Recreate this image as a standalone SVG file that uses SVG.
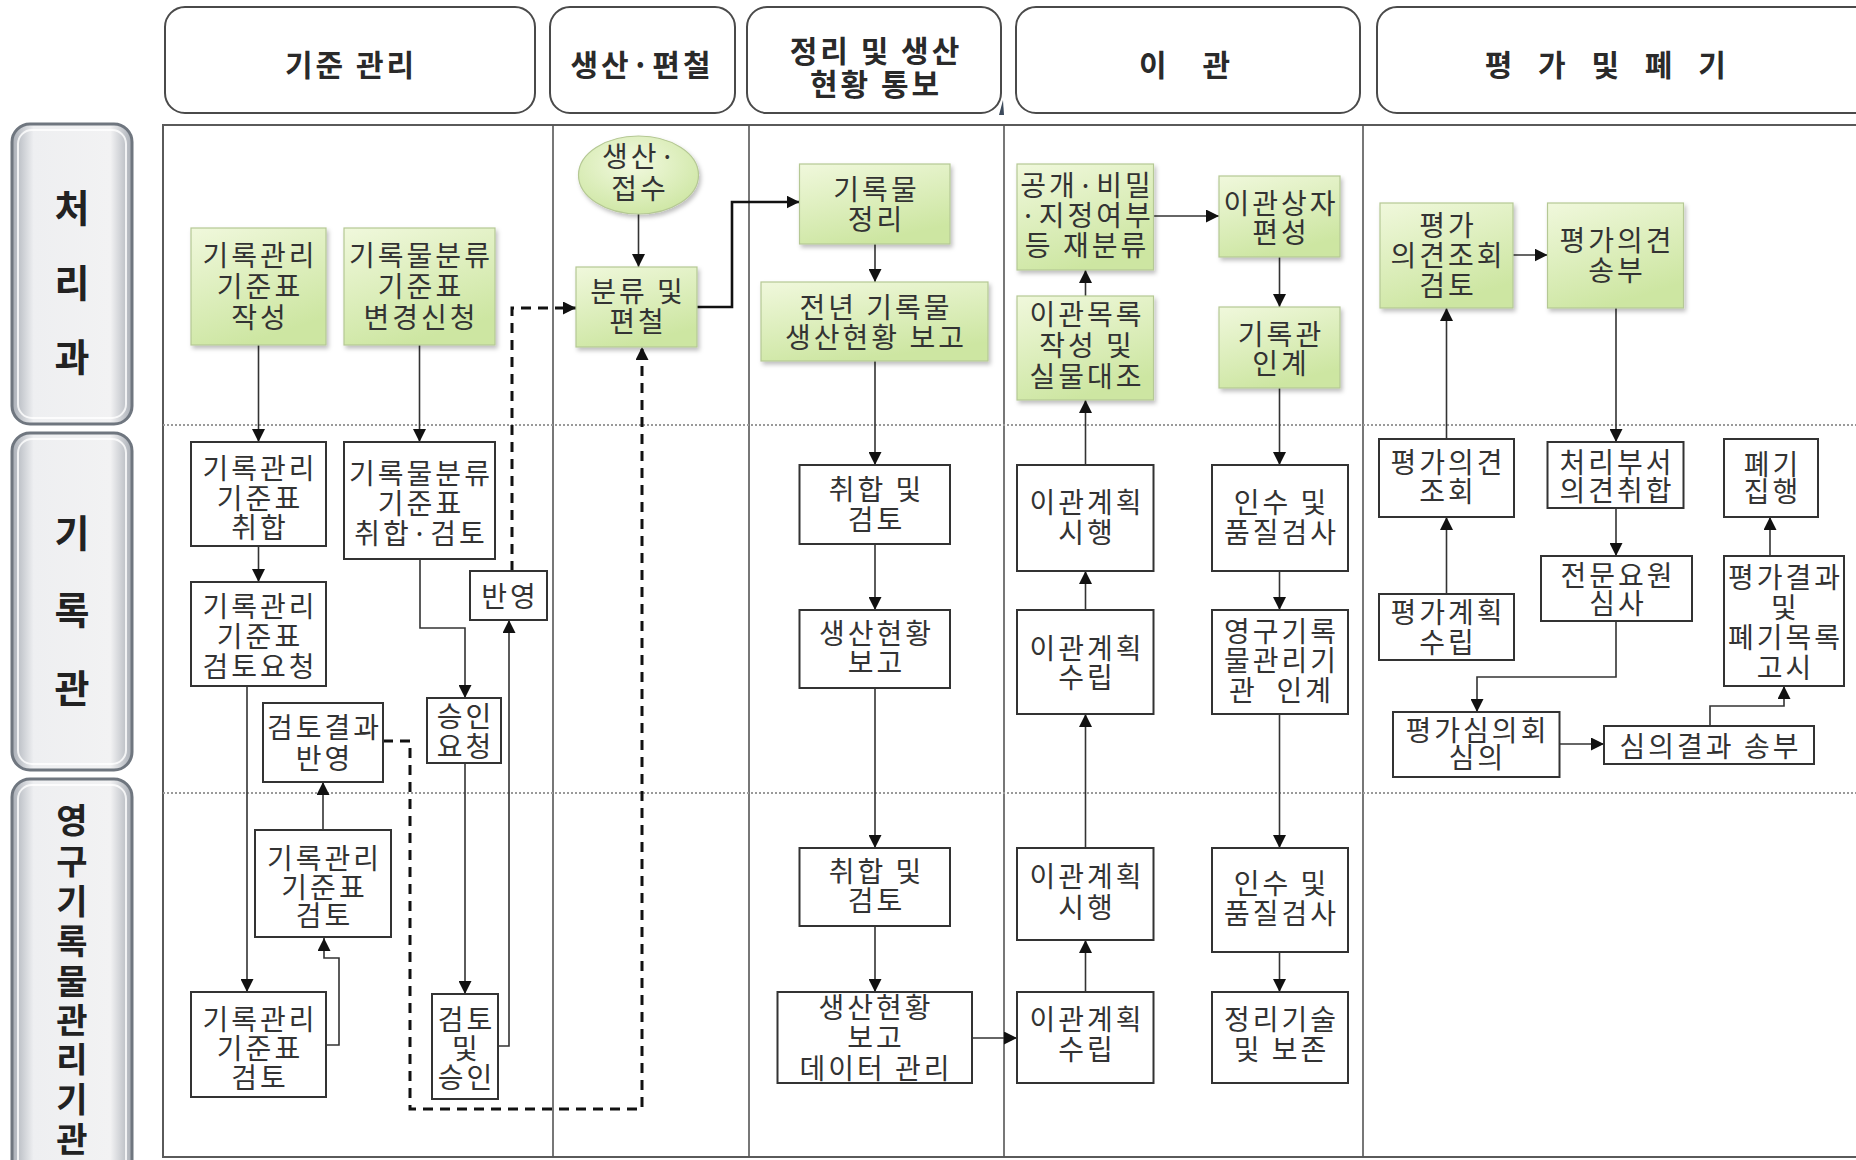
<svg xmlns="http://www.w3.org/2000/svg" width="1856" height="1160" viewBox="0 0 1856 1160">
<defs>
<linearGradient id="gGreen" x1="0" y1="0" x2="0.4" y2="1">
<stop offset="0" stop-color="#f0f8dc"/>
<stop offset="1" stop-color="#cde6a2"/>
</linearGradient>
<radialGradient id="gEll" cx="0.45" cy="0.35" r="0.7">
<stop offset="0" stop-color="#f2f9e0"/>
<stop offset="1" stop-color="#cde6a2"/>
</radialGradient>
<linearGradient id="gLane" x1="0" y1="0" x2="1" y2="0">
<stop offset="0" stop-color="#a9aeb6"/>
<stop offset="0.18" stop-color="#eeeff1"/>
<stop offset="0.82" stop-color="#f2f2f3"/>
<stop offset="1" stop-color="#a9aeb6"/>
</linearGradient>
<filter id="sh" x="-10%" y="-10%" width="125%" height="125%">
<feDropShadow dx="2" dy="3" stdDeviation="2" flood-color="#000" flood-opacity="0.25"/>
</filter>
<marker id="ah" viewBox="0 0 12 12" refX="12" refY="6" markerWidth="13" markerHeight="13" markerUnits="userSpaceOnUse" orient="auto">
<path d="M0,0 L12,6 L0,12 Z" fill="#111"/>
</marker>
</defs>
<style>
text { font-family: "Noto Sans CJK KR", "Noto Sans", sans-serif; text-anchor: middle; dominant-baseline: central; fill: #333; }
.hd { font-size: 30px; font-weight: bold; fill: #2a2a2a; letter-spacing: 3px; }
.ln { font-size: 38px; font-weight: bold; fill: #222; }
.ln3 { font-size: 34px; font-weight: bold; fill: #222; }
.t { font-size: 28px; letter-spacing: 3px; }
.hbox { fill: #fff; stroke: #4a4a4a; stroke-width: 2; }
.lane { fill: url(#gLane); stroke: #6f767f; stroke-width: 3; }
.lanein { fill: none; stroke: #ffffff; stroke-width: 2; opacity: 0.8; }
.grn { fill: url(#gGreen); stroke: #b5c894; stroke-width: 1.2; filter: url(#sh); }
.wht { fill: #fff; stroke: #333; stroke-width: 2; }
.grid { fill: none; stroke: #5a5a5a; stroke-width: 2; }
.col { stroke: #555; stroke-width: 1.6; }
.row { stroke: #9a9a9a; stroke-width: 2; stroke-dasharray: 2 2; }
.cn { fill: none; stroke: #333; stroke-width: 1.6; marker-end: url(#ah); }
.cnt { fill: none; stroke: #111; stroke-width: 2.6; marker-end: url(#ah); }
.dsh { fill: none; stroke: #111; stroke-width: 3; stroke-dasharray: 10 7; marker-end: url(#ah); }
</style>
<rect width="1856" height="1160" fill="#fff"/>

<!-- headers -->
<g id="header-1"><rect class="hbox" x="165" y="7" width="370" height="106" rx="20"/><text class="hd" x="351" y="63">기준 관리</text></g>
<g id="header-2"><rect class="hbox" x="550" y="7" width="185" height="106" rx="20"/><text class="hd" x="642" y="63">생산·편철</text></g>
<g id="header-3"><rect class="hbox" x="747" y="7" width="254" height="106" rx="20"/><text class="hd"><tspan x="876" y="49">정리 및 생산</tspan><tspan x="876" y="82">현황 통보</tspan></text>
<path d="M999,115 L1003,100 L1004,115 Z" fill="#3d4b5c"/></g>
<g id="header-4"><rect class="hbox" x="1016" y="7" width="344" height="106" rx="20"/><text class="hd" x="1186" y="63" style="word-spacing:23px">이 관</text></g>
<g id="header-5"><rect class="hbox" x="1377" y="7" width="500" height="106" rx="20"/><text class="hd" x="1610" y="63" style="letter-spacing:9.5px">평 가 및 폐 기</text></g>

<!-- lane labels -->
<g id="lane-1"><rect class="lane" x="12" y="124" width="120" height="300" rx="18"/><rect class="lanein" x="18" y="130" width="108" height="288" rx="14"/>
<text class="ln"><tspan x="72" y="205">처</tspan><tspan x="72" y="280">리</tspan><tspan x="72" y="354">과</tspan></text></g>
<g id="lane-2"><rect class="lane" x="12" y="433" width="120" height="337" rx="18"/><rect class="lanein" x="18" y="439" width="108" height="325" rx="14"/>
<text class="ln"><tspan x="72" y="530">기</tspan><tspan x="72" y="607">록</tspan><tspan x="72" y="685">관</tspan></text></g>
<g id="lane-3"><rect class="lane" x="12" y="779" width="120" height="400" rx="18"/><rect class="lanein" x="18" y="785" width="108" height="390" rx="14"/>
<text class="ln3"><tspan x="72" y="818">영</tspan><tspan x="72" y="859">구</tspan><tspan x="72" y="899">기</tspan><tspan x="72" y="939">록</tspan><tspan x="72" y="979">물</tspan><tspan x="72" y="1018">관</tspan><tspan x="72" y="1057">리</tspan><tspan x="72" y="1097">기</tspan><tspan x="72" y="1137">관</tspan></text></g>

<!-- grid -->
<g id="grid">
<rect class="grid" x="163" y="125" width="1700" height="1032"/>
<line class="col" x1="553" y1="125" x2="553" y2="1157"/>
<line class="col" x1="749" y1="125" x2="749" y2="1157"/>
<line class="col" x1="1004" y1="125" x2="1004" y2="1157"/>
<line class="col" x1="1363" y1="125" x2="1363" y2="1157"/>
<line class="row" x1="163" y1="425" x2="1856" y2="425"/>
<line class="row" x1="163" y1="793" x2="1856" y2="793"/>
</g>

<!-- connectors -->
<g id="connectors">
<path class="cn" d="M258.5,345 V442"/>
<path class="cn" d="M419.5,345 V442"/>
<path class="cn" d="M258.5,546 V582"/>
<path class="cn" d="M420,559 V628 H465 V698"/>
<path class="cn" d="M247,686 V992"/>
<path class="cn" d="M323,830 V782"/>
<path class="cn" d="M326,1045 H339 V958 H324 V938"/>
<path class="cn" d="M465,763 V994"/>
<path class="cn" d="M498,1046 H509 V620"/>
<path class="dsh" d="M512,571 V308 H576"/>
<path class="dsh" d="M383,741 H410 V1109 H642 V347"/>
<path class="cn" d="M638.5,214 V267"/>
<path class="cnt" d="M697,307 H732 V202 H799.5"/>
<path class="cn" d="M875,244 V282"/>
<path class="cn" d="M875,361 V465"/>
<path class="cn" d="M875,544 V610"/>
<path class="cn" d="M875,688 V848"/>
<path class="cn" d="M875,926 V992"/>
<path class="cn" d="M972,1038 H1017"/>
<path class="cn" d="M1085.5,992 V940"/>
<path class="cn" d="M1085.5,848 V714"/>
<path class="cn" d="M1085.5,610 V571"/>
<path class="cn" d="M1085.5,465 V400"/>
<path class="cn" d="M1085.5,296 V270"/>
<path class="cn" d="M1153.5,216 H1219"/>
<path class="cn" d="M1279.5,257 V307"/>
<path class="cn" d="M1279.5,388 V465"/>
<path class="cn" d="M1279.5,571 V610"/>
<path class="cn" d="M1279.5,714 V848"/>
<path class="cn" d="M1279.5,952 V992"/>
<path class="cn" d="M1446.5,594 V517"/>
<path class="cn" d="M1446.5,439 V308"/>
<path class="cn" d="M1513,255 H1547.5"/>
<path class="cn" d="M1616,308 V442"/>
<path class="cn" d="M1616,508 V556"/>
<path class="cn" d="M1616,621 V677 H1477 V712"/>
<path class="cn" d="M1559.5,744 H1604"/>
<path class="cn" d="M1710,726 V706 H1784 V686"/>
<path class="cn" d="M1770,556 V517"/>
</g>

<!-- column 1 nodes -->
<g id="n-g1"><rect class="grn" x="191" y="228" width="135" height="117"/><text class="t"><tspan x="260" y="254">기록관리</tspan><tspan x="260" y="285">기준표</tspan><tspan x="260" y="316">작성</tspan></text></g>
<g id="n-g2"><rect class="grn" x="344" y="228" width="151" height="117"/><text class="t"><tspan x="421" y="254">기록물분류</tspan><tspan x="421" y="285">기준표</tspan><tspan x="421" y="316">변경신청</tspan></text></g>
<g id="n-w1"><rect class="wht" x="191" y="442" width="135" height="104"/><text class="t"><tspan x="260" y="467">기록관리</tspan><tspan x="260" y="497">기준표</tspan><tspan x="260" y="526">취합</tspan></text></g>
<g id="n-w2"><rect class="wht" x="344" y="442" width="151" height="117"/><text class="t"><tspan x="421" y="472">기록물분류</tspan><tspan x="421" y="502">기준표</tspan><tspan x="421" y="532">취합·검토</tspan></text></g>
<g id="n-w3"><rect class="wht" x="191" y="582" width="135" height="104"/><text class="t"><tspan x="260" y="605">기록관리</tspan><tspan x="260" y="635">기준표</tspan><tspan x="260" y="665">검토요청</tspan></text></g>
<g id="n-w4"><rect class="wht" x="470" y="571" width="77" height="49"/><text class="t" x="510" y="595">반영</text></g>
<g id="n-w5"><rect class="wht" x="263" y="703" width="120" height="79"/><text class="t"><tspan x="324.5" y="726">검토결과</tspan><tspan x="324.5" y="757">반영</tspan></text></g>
<g id="n-w6"><rect class="wht" x="427" y="698" width="74" height="65"/><text class="t"><tspan x="465.5" y="715">승인</tspan><tspan x="465.5" y="745">요청</tspan></text></g>
<g id="n-w7"><rect class="wht" x="255" y="830" width="136" height="107"/><text class="t"><tspan x="324.5" y="857">기록관리</tspan><tspan x="324.5" y="886">기준표</tspan><tspan x="324.5" y="914">검토</tspan></text></g>
<g id="n-w8"><rect class="wht" x="191" y="992" width="135" height="105"/><text class="t"><tspan x="260" y="1018">기록관리</tspan><tspan x="260" y="1047">기준표</tspan><tspan x="260" y="1076">검토</tspan></text></g>
<g id="n-w9"><rect class="wht" x="432" y="994" width="66" height="105"/><text class="t"><tspan x="466.5" y="1018">검토</tspan><tspan x="466.5" y="1047">및</tspan><tspan x="466.5" y="1076">승인</tspan></text></g>

<!-- column 2 nodes -->
<g id="n-e1"><ellipse cx="638.5" cy="175" rx="60" ry="39" fill="url(#gEll)" stroke="#b5c894" stroke-width="1.2" filter="url(#sh)"/><text class="t"><tspan x="640" y="155">생산·</tspan><tspan x="640" y="187">접수</tspan></text></g>
<g id="n-b1"><rect class="grn" x="576" y="267" width="121" height="80"/><text class="t"><tspan x="638" y="290">분류 및</tspan><tspan x="638" y="320">편철</tspan></text></g>

<!-- column 3 nodes -->
<g id="n-g3"><rect class="grn" x="799.5" y="164" width="150.5" height="80"/><text class="t"><tspan x="876.5" y="188">기록물</tspan><tspan x="876.5" y="218">정리</tspan></text></g>
<g id="n-g4"><rect class="grn" x="761" y="282" width="227" height="79"/><text class="t"><tspan x="876" y="306">전년 기록물</tspan><tspan x="876" y="336">생산현황 보고</tspan></text></g>
<g id="n-r2a"><rect class="wht" x="799.5" y="465" width="150.5" height="79"/><text class="t"><tspan x="876.5" y="488">취합 및</tspan><tspan x="876.5" y="518">검토</tspan></text></g>
<g id="n-r2b"><rect class="wht" x="799.5" y="610" width="150.5" height="78"/><text class="t"><tspan x="876.5" y="632">생산현황</tspan><tspan x="876.5" y="661">보고</tspan></text></g>
<g id="n-r3a"><rect class="wht" x="799.5" y="848" width="150.5" height="78"/><text class="t"><tspan x="876.5" y="870">취합 및</tspan><tspan x="876.5" y="899">검토</tspan></text></g>
<g id="n-r3b"><rect class="wht" x="777.5" y="992" width="194.5" height="91"/><text class="t"><tspan x="876" y="1006">생산현황</tspan><tspan x="876" y="1036">보고</tspan><tspan x="876" y="1067">데이터 관리</tspan></text></g>

<!-- column 4 nodes -->
<g id="n-g5"><rect class="grn" x="1017" y="164" width="136.5" height="106"/><text class="t"><tspan x="1087" y="184">공개·비밀</tspan><tspan x="1087" y="214">·지정여부</tspan><tspan x="1087" y="244">등 재분류</tspan></text></g>
<g id="n-g6"><rect class="grn" x="1017" y="296" width="136.5" height="104"/><text class="t"><tspan x="1087" y="313">이관목록</tspan><tspan x="1087" y="344">작성 및</tspan><tspan x="1087" y="375">실물대조</tspan></text></g>
<g id="n-g7"><rect class="grn" x="1219" y="176" width="121" height="81"/><text class="t"><tspan x="1281" y="202">이관상자</tspan><tspan x="1281" y="231">편성</tspan></text></g>
<g id="n-g8"><rect class="grn" x="1219" y="307" width="121" height="81"/><text class="t"><tspan x="1281" y="333">기록관</tspan><tspan x="1281" y="362">인계</tspan></text></g>
<g id="n-r2c"><rect class="wht" x="1017" y="465" width="136.5" height="106"/><text class="t"><tspan x="1087" y="501">이관계획</tspan><tspan x="1087" y="531">시행</tspan></text></g>
<g id="n-r2d"><rect class="wht" x="1017" y="610" width="136.5" height="104"/><text class="t"><tspan x="1087" y="647">이관계획</tspan><tspan x="1087" y="676">수립</tspan></text></g>
<g id="n-r2e"><rect class="wht" x="1212" y="465" width="136" height="106"/><text class="t"><tspan x="1281.5" y="501">인수 및</tspan><tspan x="1281.5" y="531">품질검사</tspan></text></g>
<g id="n-r2f"><rect class="wht" x="1212" y="610" width="136" height="104"/><text class="t" xml:space="preserve"><tspan x="1281.5" y="630">영구기록</tspan><tspan x="1281.5" y="659">물관리기</tspan><tspan x="1281.5" y="689">관  인계</tspan></text></g>
<g id="n-r3c"><rect class="wht" x="1017" y="848" width="136.5" height="92"/><text class="t"><tspan x="1087" y="875">이관계획</tspan><tspan x="1087" y="906">시행</tspan></text></g>
<g id="n-r3d"><rect class="wht" x="1017" y="992" width="136.5" height="91"/><text class="t"><tspan x="1087" y="1018">이관계획</tspan><tspan x="1087" y="1048">수립</tspan></text></g>
<g id="n-r3e"><rect class="wht" x="1212" y="848" width="136" height="104"/><text class="t"><tspan x="1281.5" y="882">인수 및</tspan><tspan x="1281.5" y="912">품질검사</tspan></text></g>
<g id="n-r3f"><rect class="wht" x="1212" y="992" width="136" height="91"/><text class="t"><tspan x="1281.5" y="1018">정리기술</tspan><tspan x="1281.5" y="1048">및 보존</tspan></text></g>

<!-- column 5 nodes -->
<g id="n-g9"><rect class="grn" x="1380" y="203" width="133" height="105"/><text class="t"><tspan x="1448" y="224">평가</tspan><tspan x="1448" y="254">의견조회</tspan><tspan x="1448" y="284">검토</tspan></text></g>
<g id="n-g10"><rect class="grn" x="1547.5" y="203" width="136" height="105"/><text class="t"><tspan x="1617" y="239">평가의견</tspan><tspan x="1617" y="269">송부</tspan></text></g>
<g id="n-r2g"><rect class="wht" x="1379" y="439" width="135" height="78"/><text class="t"><tspan x="1448" y="461">평가의견</tspan><tspan x="1448" y="490">조회</tspan></text></g>
<g id="n-r2h"><rect class="wht" x="1379" y="594" width="135" height="66"/><text class="t"><tspan x="1448" y="611">평가계획</tspan><tspan x="1448" y="641">수립</tspan></text></g>
<g id="n-r2i"><rect class="wht" x="1547.5" y="442" width="136" height="66"/><text class="t"><tspan x="1617" y="461">처리부서</tspan><tspan x="1617" y="489">의견취합</tspan></text></g>
<g id="n-r2j"><rect class="wht" x="1541" y="556" width="151" height="65"/><text class="t"><tspan x="1618" y="574">전문요원</tspan><tspan x="1618" y="602">심사</tspan></text></g>
<g id="n-r2k"><rect class="wht" x="1724" y="439" width="94" height="78"/><text class="t"><tspan x="1772.5" y="463">폐기</tspan><tspan x="1772.5" y="490">집행</tspan></text></g>
<g id="n-r2l"><rect class="wht" x="1724" y="556" width="120" height="130"/><text class="t"><tspan x="1785.5" y="576">평가결과</tspan><tspan x="1785.5" y="606">및</tspan><tspan x="1785.5" y="636">폐기목록</tspan><tspan x="1785.5" y="666">고시</tspan></text></g>
<g id="n-r2m"><rect class="wht" x="1393" y="712" width="166.5" height="65"/><text class="t"><tspan x="1477.5" y="729">평가심의회</tspan><tspan x="1477.5" y="756">심의</tspan></text></g>
<g id="n-r2n"><rect class="wht" x="1604" y="726" width="210" height="38"/><text class="t" x="1710.5" y="745">심의결과 송부</text></g>
</svg>
